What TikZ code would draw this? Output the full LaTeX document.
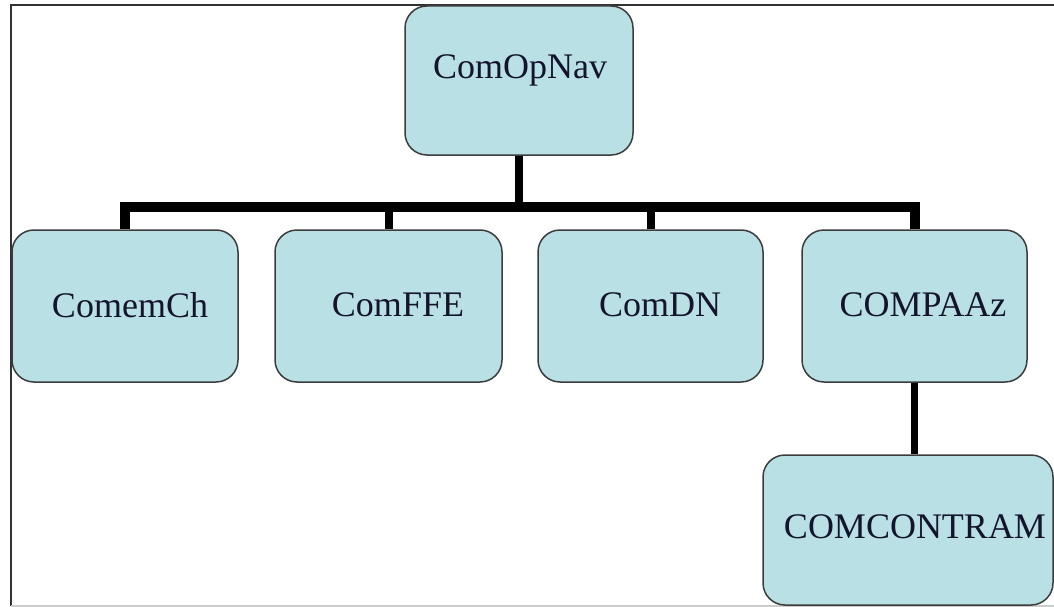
\documentclass[tikz,border=0pt]{standalone}
\usepackage{fontspec}
\setmainfont{Liberation Serif}
\definecolor{boxfill}{RGB}{185,224,228}
\definecolor{boxline}{RGB}{60,60,60}
\definecolor{txt}{RGB}{20,20,45}
\begin{document}
\begin{tikzpicture}[x=1pt,y=-1pt,
  box/.style={draw=boxline,line width=1.5pt,fill=boxfill,rounded corners=22pt,inner sep=0pt},
  lbl/.style={text=txt,font=\fontsize{36}{40}\selectfont,inner sep=0pt},
  conn/.style={line width=8pt,black},
  busline/.style={line width=10pt,black,line join=miter}]
\useasboundingbox (0,0) rectangle (1054,607);
% frame
\draw[line width=2pt,black!80] (1054,5) -- (11,5) -- (11,606);
\draw[line width=2pt,black!20] (11,606) -- (1054,606);
% boxes
\node[box,minimum width=228pt,minimum height=149pt] (top) at (519,80.5) {};
\node[box,minimum width=226pt,minimum height=152pt] (c1) at (125,306) {};
\node[box,minimum width=227pt,minimum height=152pt] (c2) at (388.5,306) {};
\node[box,minimum width=225pt,minimum height=152pt] (c3) at (650.5,306) {};
\node[box,minimum width=225pt,minimum height=152pt] (c4) at (914.5,306) {};
\node[box,minimum width=290pt,minimum height=150pt] (c5) at (908,530) {};
% labels
\node[lbl] (t0) at (520,70) {ComOpNav};
\node[lbl] (t1) at (130,305) {ComemCh};
\node[lbl] (t2) at (398,305) {ComFFE};
\node[lbl] (t3) at (660,305) {ComDN};
\node[lbl] (t4) at (923,305) {COMPAAz};
\node[lbl] (t5) at (915,527) {COMCONTRAM};
% connectors
\coordinate (bus) at (0,207);
\draw[conn] (top.south) -- (top.south |- bus);
\draw[busline] (c1.north) -- (c1.north |- bus) -- (c4.north |- bus) -- (c4.north);
\draw[conn] (c2.north) -- (c2.north |- bus);
\draw[conn] (c3.north) -- (c3.north |- bus);
\draw[conn,line width=7pt] (c4.south) -- (c5.north -| c4.south);
\end{tikzpicture}
\end{document}
